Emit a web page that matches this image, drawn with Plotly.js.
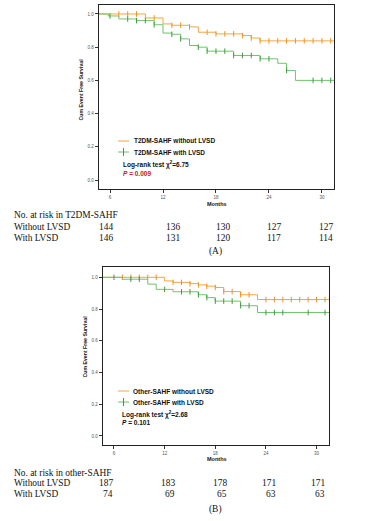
<!DOCTYPE html>
<html>
<head>
<meta charset="utf-8">
<script src="https://cdn.plot.ly/plotly-3.0.1.min.js"></script>
<style>
  html, body { margin: 0; padding: 0; background: #fff; }
  #chart { width: 383px; height: 521px; }
</style>
</head>
<body>
<div id="chart"></div>
<script>
// ---- Kaplan-Meier step data (months, cumulative event-free survival) ----
// (A) T2DM-SAHF
const aWithoutTimes = [0, 10, 12, 13, 15, 16, 18, 21, 22, 23];
const aWithoutSurv  = [1.0, 0.976, 0.94, 0.932, 0.922, 0.89, 0.88, 0.87, 0.855, 0.838];
const aWithoutCensor = [7, 8, 9, 11, 13, 14, 15, 17, 18, 19, 20, 21, 22, 23, 24, 25, 26, 27, 28, 29, 30, 31];

const aWithTimes = [0, 5.8, 7, 9, 11, 12, 13, 14, 15, 16, 17, 20, 23, 25, 26, 27];
const aWithSurv  = [1.0, 0.988, 0.97, 0.96, 0.935, 0.885, 0.878, 0.85, 0.81, 0.80, 0.776, 0.75, 0.73, 0.703, 0.66, 0.60];
const aWithCensor = [6, 8, 9, 10, 11, 13, 14, 16, 17, 18, 19, 20, 21, 22, 23, 24, 26, 29, 30, 31];

// (B) other-SAHF
const bWithoutTimes = [0, 12, 13, 15, 16, 17, 18, 19, 21, 23];
const bWithoutSurv  = [1.0, 0.977, 0.968, 0.96, 0.952, 0.944, 0.936, 0.91, 0.89, 0.86];
const bWithoutCensor = [7, 8, 9, 10, 11, 13, 14, 15, 16, 17, 18, 19, 20, 21, 22, 24, 25, 26, 27, 28, 29, 30, 31];

const bWithTimes = [0, 7, 10, 11, 13, 16, 17, 18, 21, 23];
const bWithSurv  = [1.0, 0.988, 0.957, 0.924, 0.909, 0.89, 0.872, 0.85, 0.821, 0.778];
const bWithCensor = [6, 8, 9, 12, 14, 15, 16, 17, 18, 19, 20, 21, 22, 24, 25, 26, 29, 31];

// Numbers at risk
const riskMonths = [6, 12, 18, 24, 30];
const riskAWithout = [144, 136, 130, 127, 127];
const riskAWith    = [146, 131, 120, 117, 114];
const riskBWithout = [187, 183, 178, 171, 171];
const riskBWith    = [74, 69, 65, 63, 63];

// Text
const legendA = ['T2DM-SAHF without LVSD', 'T2DM-SAHF with LVSD'];
const legendB = ['Other-SAHF without LVSD', 'Other-SAHF with LVSD'];
const statA = ['Log-rank test \u03c7<sup>2</sup>=6.75', '<i>P</i> = 0.009'];
const statB = ['Log-rank test \u03c7<sup>2</sup>=2.68', '<i>P</i> = 0.101'];
const yTickVals = [0, 0.2, 0.4, 0.6, 0.8, 1.0];
const xTickVals = [6, 12, 18, 24, 30];

// ---- page geometry helpers (pixel -> paper) ----
const W = 383, H = 521;
const PX = p => p / W;
const PY = p => 1 - p / H;

const ORANGE = '#f4a640';
const ORANGE_TICK = '#ee9424';
const GREEN = '#6cc66c';
const GREEN_TICK = '#3f9c3f';
const SANS = 'Liberation Sans, Arial, sans-serif';
const SERIF = 'Liberation Serif, Times New Roman, serif';

function survivalAt(t, times, surv) {
  let s = surv[0];
  for (let i = 0; i < times.length; i++) if (times[i] <= t) s = surv[i];
  return s;
}

function stepTrace(times, surv, color, xa, ya, xEnd) {
  return {
    type: 'scatter', mode: 'lines', xaxis: xa, yaxis: ya,
    x: times.concat([xEnd]), y: surv.concat([surv[surv.length - 1]]),
    line: { shape: 'hv', color: color, width: 1 },
    hoverinfo: 'skip', showlegend: false
  };
}

function censorTrace(censor, times, surv, color, xa, ya) {
  return {
    type: 'scatter', mode: 'markers', xaxis: xa, yaxis: ya,
    x: censor, y: censor.map(t => survivalAt(t, times, surv)),
    marker: { symbol: 'line-ns', size: 4, line: { width: 1, color: color } },
    hoverinfo: 'skip', showlegend: false
  };
}

const data = [
  stepTrace(aWithoutTimes, aWithoutSurv, ORANGE, 'x', 'y', 32),
  stepTrace(aWithTimes, aWithSurv, GREEN, 'x', 'y', 32),
  censorTrace(aWithoutCensor, aWithoutTimes, aWithoutSurv, ORANGE_TICK, 'x', 'y'),
  censorTrace(aWithCensor, aWithTimes, aWithSurv, GREEN_TICK, 'x', 'y'),
  stepTrace(bWithoutTimes, bWithoutSurv, ORANGE, 'x2', 'y2', 32),
  stepTrace(bWithTimes, bWithSurv, GREEN, 'x2', 'y2', 32),
  censorTrace(bWithoutCensor, bWithoutTimes, bWithoutSurv, ORANGE_TICK, 'x2', 'y2'),
  censorTrace(bWithCensor, bWithTimes, bWithSurv, GREEN_TICK, 'x2', 'y2')
];

function xAxis(domain, range, anchor) {
  return {
    domain: domain, range: range, anchor: anchor,
    tickvals: xTickVals, ticks: 'outside', ticklen: 3, tickwidth: 1, tickcolor: '#333',
    tickfont: { family: SANS, size: 4.5, color: '#555' },
    showline: true, linecolor: '#222', linewidth: 1.3, mirror: true,
    showgrid: false, zeroline: false, fixedrange: true
  };
}
function yAxis(domain, range, anchor) {
  return {
    domain: domain, range: range, anchor: anchor,
    tickvals: yTickVals, tickformat: '.1f', ticks: 'outside', ticklen: 3, tickwidth: 1, tickcolor: '#333',
    tickfont: { family: SANS, size: 4.5, color: '#555' },
    showline: true, linecolor: '#222', linewidth: 1.3, mirror: true,
    showgrid: false, zeroline: false, fixedrange: true
  };
}

const annotations = [];
const shapes = [];

function text(x, y, s, opts) {
  annotations.push(Object.assign({
    xref: 'paper', yref: 'paper', x: PX(x), y: PY(y), text: s, showarrow: false,
    xanchor: 'left', yanchor: 'middle',
    font: { family: SANS, size: 6.5, color: '#111' }
  }, opts || {}));
}

// Panel decorations: axis titles, legend, statistics
function panelText(p) {
  text(p.yTitleX, p.yTitleY, '<b>Cum Event Free Survival</b>',
       { textangle: -90, xanchor: 'center', font: { family: SANS, size: 5.2, color: '#111' } });
  text(p.monthsX, p.monthsY, '<b>Months</b>',
       { xanchor: 'center', font: { family: SANS, size: 5.5, color: '#111' } });
  // legend samples
  shapes.push({ type: 'line', xref: 'paper', yref: 'paper', x0: PX(p.legX0), x1: PX(p.legX1), y0: PY(p.leg1Y), y1: PY(p.leg1Y), line: { color: ORANGE, width: 1 } });
  shapes.push({ type: 'line', xref: 'paper', yref: 'paper', x0: PX(p.legX0), x1: PX(p.legX1), y0: PY(p.leg2Y), y1: PY(p.leg2Y), line: { color: GREEN, width: 1 } });
  const mid = (p.legX0 + p.legX1) / 2;
  shapes.push({ type: 'line', xref: 'paper', yref: 'paper', x0: PX(mid), x1: PX(mid), y0: PY(p.leg2Y - 4), y1: PY(p.leg2Y + 4), line: { color: GREEN_TICK, width: 1 } });
  text(p.legTextX, p.leg1Y, '<b>' + p.legend[0] + '</b>');
  text(p.legTextX, p.leg2Y, '<b>' + p.legend[1] + '</b>');
  text(p.statX, p.stat1Y, '<b>' + p.stat[0] + '</b>');
  text(p.statX, p.stat2Y, '<b>' + p.stat[1] + '</b>', { font: { family: SANS, size: 6.5, color: p.pColor } });
}

panelText({
  yTitleX: 80.5, yTitleY: 90, monthsX: 217, monthsY: 204,
  legX0: 118, legX1: 129, leg1Y: 141, leg2Y: 152, legTextX: 132,
  statX: 121, stat1Y: 164.5, stat2Y: 173, legend: legendA, stat: statA, pColor: '#cc2020'
});
panelText({
  yTitleX: 84.5, yTitleY: 347, monthsX: 217, monthsY: 459,
  legX0: 118, legX1: 129, leg1Y: 391, leg2Y: 402, legTextX: 131,
  statX: 120, stat1Y: 414, stat2Y: 422.5, legend: legendB, stat: statB, pColor: '#111'
});

// Numbers-at-risk tables
function riskTable(title, rows, ys, rightEdges, label, labelY) {
  const f = { family: SERIF, size: 9.4, color: '#111' };
  text(12, ys[0], title, { font: f });
  rows.forEach((r, i) => {
    text(12, ys[i + 1], r.name, { font: f });
    r.values.forEach((v, j) => text(rightEdges[j], ys[i + 1], String(v), { font: f, xanchor: 'right' }));
  });
  text(215, labelY, label, { font: f, xanchor: 'center' });
}
riskTable('No. at risk in T2DM-SAHF',
  [{ name: 'Without LVSD', values: riskAWithout }, { name: 'With LVSD', values: riskAWith }],
  [215, 226.7, 237.7], [114.5, 182, 232, 283, 335], '(A)', 251.3);
riskTable('No. at risk in other-SAHF',
  [{ name: 'Without LVSD', values: riskBWithout }, { name: 'With LVSD', values: riskBWith }],
  [472.7, 483.3, 494], [115, 177, 229, 278, 327], '(B)', 509.3);

const layout = {
  width: W, height: H,
  margin: { l: 0, r: 0, t: 0, b: 0 },
  paper_bgcolor: '#fff', plot_bgcolor: '#fff',
  showlegend: false,
  xaxis:  xAxis([PX(99), PX(334)], [4.75, 31.37], 'y'),
  yaxis:  yAxis([PY(189), PY(5)], [-0.054, 1.054], 'x'),
  xaxis2: xAxis([PX(103), PX(329)], [4.70, 31.47], 'y2'),
  yaxis2: yAxis([PY(445), PY(267)], [-0.057, 1.065], 'x2'),
  annotations: annotations,
  shapes: shapes
};

Plotly.newPlot('chart', data, layout, { displayModeBar: false, staticPlot: true });
</script>
</body>
</html>
